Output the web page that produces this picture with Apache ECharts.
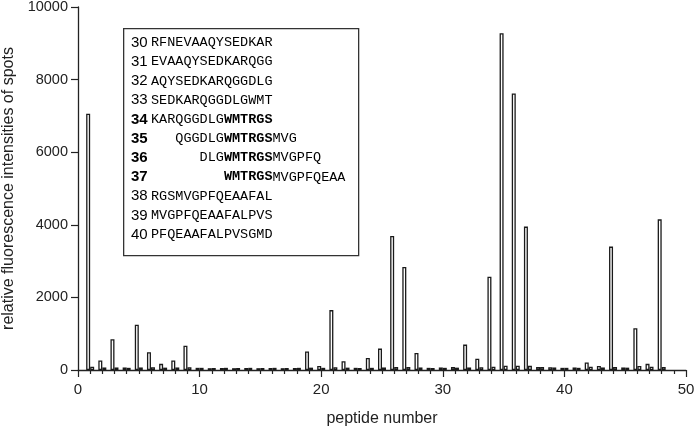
<!DOCTYPE html>
<html>
<head>
<meta charset="utf-8">
<script src="https://cdn.jsdelivr.net/npm/echarts@6/dist/echarts.min.js"></script>
<style>
  html, body { margin: 0; padding: 0; background: #fff; }
  #chart { width: 700px; height: 428px; }
</style>
</head>
<body>
<div id="chart"></div>
<script>
// peptide numbers 1..48
const peptides = [1,2,3,4,5,6,7,8,9,10,11,12,13,14,15,16,17,18,19,20,21,22,23,24,
  25,26,27,28,29,30,31,32,33,34,35,36,37,38,39,40,41,42,43,44,45,46,47,48];
// main spot intensities
const mainValues = [7060,265,850,70,1250,490,170,260,670,60,50,55,50,55,50,55,50,55,
  510,110,1650,240,60,330,590,3690,2840,470,60,70,80,700,310,2570,9280,7620,3950,
  80,75,60,70,210,110,3400,70,1150,170,4150];
// companion (control) spots
const ctrlValues = [90,70,70,60,70,75,65,70,75,60,55,60,55,60,55,60,55,60,
  65,60,75,65,55,60,70,80,80,70,55,60,65,70,75,90,120,120,115,
  80,70,60,60,90,70,80,65,110,90,80];

const xTicks = [0,10,20,30,40,50];
const yTicks = [0,2000,4000,6000,8000,10000];

// inset legend: number, leading spaces, plain, bold, plain, bold number
const legendRows = [
  ['30', '', 'RFNEVAAQYSEDKAR', '', '', false],
  ['31', '', 'EVAAQYSEDKARQGG', '', '', false],
  ['32', '', 'AQYSEDKARQGGDLG', '', '', false],
  ['33', '', 'SEDKARQGGDLGWMT', '', '', false],
  ['34', '', 'KARQGGDLG', 'WMTRGS', '', true],
  ['35', '   ', 'QGGDLG', 'WMTRGS', 'MVG', true],
  ['36', '      ', 'DLG', 'WMTRGS', 'MVGPFQ', true],
  ['37', '         ', '', 'WMTRGS', 'MVGPFQEAA', true],
  ['38', '', 'RGSMVGPFQEAAFAL', '', '', false],
  ['39', '', 'MVGPFQEAAFALPVS', '', '', false],
  ['40', '', 'PFQEAAFALPVSGMD', '', '', false]
];

const legendText = legendRows.map(r => {
  let s = r[5] ? '{nb|' + r[0] + '}' : '{n|' + r[0] + '}';
  if (r[1]) s += '{s|' + r[1] + '}';
  if (r[2]) s += '{s|' + r[2] + '}';
  if (r[3]) s += '{sb|' + r[3] + '}';
  if (r[4]) s += '{s|' + r[4] + '}';
  return s;
}).join('\n');

const chart = echarts.init(document.getElementById('chart'), null, { renderer: 'canvas' });

const barStyle = { color: '#fff', borderColor: '#1a1a1a', borderWidth: 1.3 };
const gridPos = { left: 78, right: 14, top: 7, bottom: 58, outerBoundsMode: 'none', containLabel: false };

const option = {
  animation: false,
  backgroundColor: '#fff',
  grid: gridPos,
  xAxis: {
    type: 'value',
    min: 0, max: 50, interval: 10,
    name: 'peptide number',
    nameLocation: 'middle',
    nameGap: 41,
    nameTextStyle: { fontSize: 16, color: '#222', fontFamily: 'Liberation Sans' },
    axisLine: { show: true, lineStyle: { color: '#222', width: 1.3 } },
    axisTick: { show: true, length: 7, lineStyle: { color: '#222', width: 1.2 } },
    minorTick: { show: true, splitNumber: 10, length: 4, lineStyle: { color: '#222', width: 1.2 } },
    splitLine: { show: false },
    axisLabel: {
      fontSize: 15, color: '#222', fontFamily: 'Liberation Sans', margin: 12,
      formatter: v => xTicks.includes(v) ? String(v) : ''
    }
  },
  yAxis: {
    type: 'value',
    min: 0, max: 10000, interval: 2000,
    name: 'relative fluorescence intensities of spots',
    nameLocation: 'middle',
    nameGap: 60,
    nameTextStyle: { fontSize: 16, color: '#222', fontFamily: 'Liberation Sans' },
    axisLine: { show: true, lineStyle: { color: '#222', width: 1.3 } },
    axisTick: { show: true, length: 7, lineStyle: { color: '#222', width: 1.2 } },
    splitLine: { show: false },
    axisLabel: {
      fontSize: 14.5, color: '#222', fontFamily: 'Liberation Sans', margin: 10,
      formatter: v => yTicks.includes(v) ? String(v) : ''
    }
  },
  series: [
    {
      type: 'bar',
      data: peptides.map((p, i) => [p, mainValues[i]]),
      barWidth: 4,
      barGap: '0%',
      itemStyle: barStyle
    },
    {
      type: 'bar',
      data: peptides.map((p, i) => [p, ctrlValues[i]]),
      barWidth: 4,
      barGap: '0%',
      itemStyle: barStyle
    }
  ],
  graphic: [
    {
      type: 'rect',
      left: 123, top: 28,
      shape: { width: 235, height: 227 },
      style: { fill: '#fff', stroke: '#333', lineWidth: 1.3 },
      z: 10
    },
    {
      type: 'text',
      left: 131, top: 33,
      z: 11,
      style: {
        text: legendText,
        lineHeight: 19.2,
        rich: {
          n: { fontFamily: 'Liberation Sans', fontSize: 15, color: '#222', width: 20, lineHeight: 19.2 },
          nb: { fontFamily: 'Liberation Sans', fontSize: 15, fontWeight: 'bold', color: '#222', width: 20, lineHeight: 19.2 },
          s: { fontFamily: 'Liberation Mono', fontSize: 13.5, color: '#555', lineHeight: 19.2 },
          sb: { fontFamily: 'Liberation Mono', fontSize: 13.5, fontWeight: 'bold', color: '#222', lineHeight: 19.2 }
        }
      }
    }
  ]
};

chart.setOption(option);
</script>
</body>
</html>
